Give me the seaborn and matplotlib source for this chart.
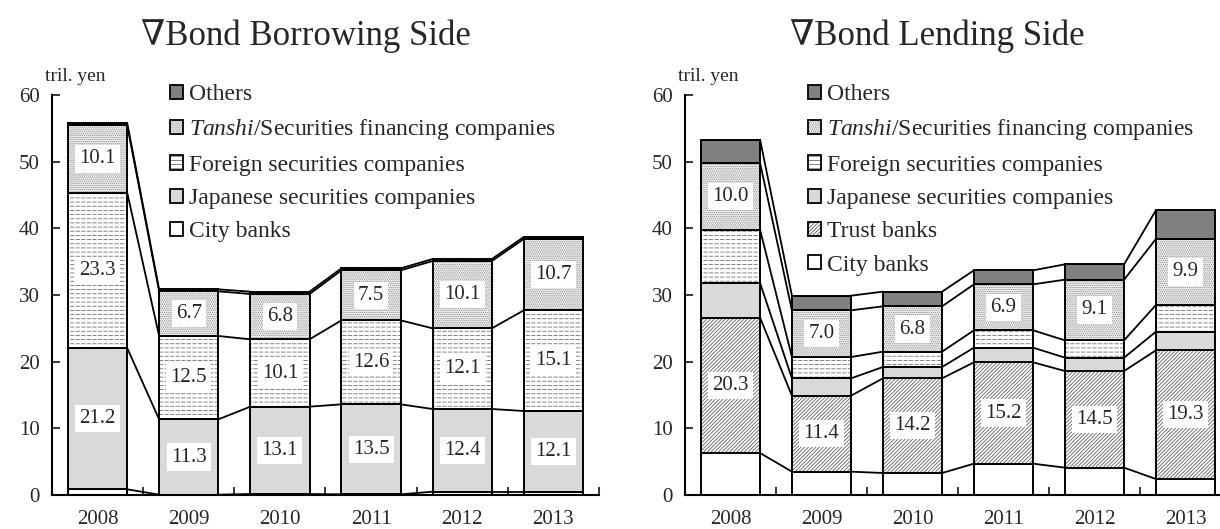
import matplotlib
matplotlib.use("Agg")
import matplotlib.pyplot as plt
from matplotlib.patches import Patch
from matplotlib.legend_handler import HandlerTuple
import numpy as np
import pandas as pd
import seaborn as sns

years = ["2008", "2009", "2010", "2011", "2012", "2013"]

# Bond borrowing side (tril. yen), bottom to top
borrow_city = [0.85, 0.05, 0.15, 0.1, 0.5, 0.5]
borrow_japanese = [21.2, 11.3, 13.1, 13.5, 12.4, 12.1]
borrow_foreign = [23.3, 12.5, 10.1, 12.6, 12.1, 15.1]
borrow_tanshi = [10.1, 6.7, 6.8, 7.5, 10.1, 10.7]
borrow_others = [0.35, 0.3, 0.35, 0.3, 0.3, 0.3]

# Bond lending side (tril. yen), bottom to top
lend_city = [6.3, 3.5, 3.3, 4.7, 4.1, 2.4]
lend_trust = [20.3, 11.4, 14.2, 15.2, 14.5, 19.3]
lend_japanese = [5.2, 2.6, 1.7, 2.2, 2.0, 2.8]
lend_foreign = [8.0, 3.2, 2.3, 2.6, 2.6, 4.0]
lend_tanshi = [10.0, 7.0, 6.8, 6.9, 9.1, 9.9]
lend_others = [3.5, 2.2, 2.2, 2.1, 2.3, 4.3]

LBL = {
    "others": "Others",
    "tanshi": "$\\mathit{Tanshi}$/Securities financing companies",
    "foreign": "Foreign securities companies",
    "japanese": "Japanese securities companies",
    "trust": "Trust banks",
    "city": "City banks",
}
# fc: fill, hatch + hc: hatch pattern and its colour, cut: white hatch drawn on top (dashes)
STYLE = {
    "others": dict(fc="#808080", hatch=None, hc=None, cut=None),
    "tanshi": dict(fc="#eeeeee", hatch="........", hc="#8c8c8c", cut=None),
    "foreign": dict(fc="white", hatch="----", hc="#707070", cut="|||"),
    "japanese": dict(fc="#d9d9d9", hatch=None, hc=None, cut=None),
    "trust": dict(fc="white", hatch="/////////", hc="#606060", cut=None),
    "city": dict(fc="white", hatch=None, hc=None, cut=None),
}

sns.set_theme(style="ticks")
plt.rcParams["font.family"] = ["Liberation Serif", "DejaVu Serif"]
plt.rcParams["mathtext.fontset"] = "custom"
plt.rcParams["mathtext.rm"] = "Liberation Serif"
plt.rcParams["mathtext.it"] = "Liberation Serif:italic"
plt.rcParams["hatch.linewidth"] = 0.6

W = 0.65


def draw_panel(ax, layers, labelled, legend_x):
    bottom = np.zeros(len(years))
    tops = []
    for key, vals in layers:
        st = STYLE[key]
        df = pd.DataFrame({"year": years, "value": vals})
        if st["hatch"]:
            sns.barplot(data=df, x="year", y="value", bottom=bottom, width=W,
                        color=st["fc"], saturation=1, edgecolor=st["hc"],
                        linewidth=0, hatch=st["hatch"], errorbar=None, ax=ax)
        else:
            sns.barplot(data=df, x="year", y="value", bottom=bottom, width=W,
                        color=st["fc"], saturation=1, linewidth=0,
                        errorbar=None, ax=ax)
        if st["cut"]:
            with plt.rc_context({"hatch.linewidth": 1.0}):
                sns.barplot(data=df, x="year", y="value", bottom=bottom, width=W,
                            fill=False, color="white", linewidth=0,
                            hatch=st["cut"], errorbar=None, ax=ax)
        sns.barplot(data=df, x="year", y="value", bottom=bottom, width=W,
                    fill=False, color="black", linewidth=1.4,
                    errorbar=None, ax=ax)
        if key in labelled:
            for i, v in enumerate(vals):
                ax.text(i, bottom[i] + v / 2, f"{v:.1f}", ha="center", va="center",
                        fontsize=15, zorder=5,
                        bbox=dict(facecolor="white", edgecolor="none", pad=3))
        bottom = bottom + np.array(vals)
        tops.append(bottom.copy())

    # connector lines between adjacent bars
    for lvl in tops:
        for i in range(len(years) - 1):
            ax.plot([i + W / 2, i + 1 - W / 2], [lvl[i], lvl[i + 1]],
                    color="black", linewidth=1.3, zorder=4)

    ax.set_xlim(-0.5, 5.5)
    ax.set_ylim(0, 60)
    ax.set_yticks(range(0, 61, 10))
    ax.set_xticks(np.arange(0.5, 6, 1), minor=True)
    ax.tick_params(axis="y", direction="in", length=6, width=1.3, labelsize=15, pad=9)
    ax.tick_params(axis="x", which="major", length=0, labelsize=15, pad=11)
    ax.tick_params(axis="x", which="minor", direction="in", length=6, width=1.3)
    ax.set_xlabel("")
    ax.set_ylabel("")
    sns.despine(ax=ax)
    for s in ("left", "bottom"):
        ax.spines[s].set_linewidth(1.5)
        ax.spines[s].set_color("black")
    ax.text(0.042, 1.045, "tril. yen", transform=ax.transAxes, ha="center",
            va="center", fontsize=14)

    handles, labels = [], []
    for key, _ in reversed(layers):
        st = STYLE[key]
        fill = Patch(facecolor=st["fc"], edgecolor=st["hc"] or st["fc"], linewidth=0,
                     hatch=st["hatch"])
        edge = Patch(facecolor="none", edgecolor="black", linewidth=1.3)
        handles.append((fill, edge))
        labels.append(LBL[key])
    ax.legend(handles=handles, labels=labels,
              handler_map={tuple: HandlerTuple(ndivide=1, pad=0)},
              loc="upper left", bbox_to_anchor=(legend_x, 1.027),
              frameon=False, fontsize=17, handlelength=0.55, handleheight=0.55,
              handletextpad=0.25, labelspacing=0.52, borderpad=0, borderaxespad=0)


fig = plt.figure(figsize=(12.2, 5.29), dpi=100)
ax1 = fig.add_axes([52 / 1220, 34 / 529, 547 / 1220, 400 / 529])
ax2 = fig.add_axes([685 / 1220, 34 / 529, 546 / 1220, 400 / 529])

draw_panel(ax1, [("city", borrow_city), ("japanese", borrow_japanese),
                 ("foreign", borrow_foreign), ("tanshi", borrow_tanshi),
                 ("others", borrow_others)],
           {"japanese", "foreign", "tanshi"}, 0.216)
draw_panel(ax2, [("city", lend_city), ("trust", lend_trust),
                 ("japanese", lend_japanese), ("foreign", lend_foreign),
                 ("tanshi", lend_tanshi), ("others", lend_others)],
           {"trust", "tanshi"}, 0.225)

fig.text(0.251, 0.932, "∇Bond Borrowing Side", ha="center", va="center", fontsize=25)
fig.text(0.768, 0.932, "∇Bond Lending Side", ha="center", va="center", fontsize=25)

fig.savefig("out.png", dpi=100)
